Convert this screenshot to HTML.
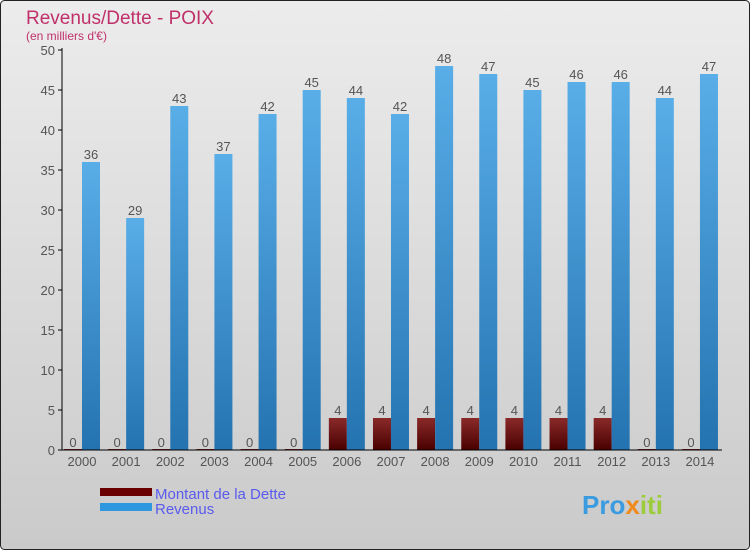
<!DOCTYPE html>
<html><head><meta charset="utf-8"><style>
body{margin:0;width:750px;height:550px;overflow:hidden;font-family:"Liberation Sans",sans-serif}
</style></head><body>
<svg id="c" width="750" height="550" xmlns="http://www.w3.org/2000/svg">
<defs>
<linearGradient id="bg" x1="0" y1="0" x2="0" y2="1"><stop offset="0" stop-color="#ececec"/><stop offset="1" stop-color="#cacaca"/></linearGradient>
<linearGradient id="gr" x1="0" y1="0" x2="0" y2="1"><stop offset="0" stop-color="#59aee8"/><stop offset="1" stop-color="#2473b0"/></linearGradient>
<linearGradient id="gd" x1="0" y1="0" x2="0" y2="1"><stop offset="0" stop-color="#8a2a2a"/><stop offset="1" stop-color="#4a0000"/></linearGradient>
</defs>
<rect x="0.5" y="0.5" width="749" height="549" rx="4" fill="url(#bg)" stroke="#222"/>
<text x="26" y="24" font-size="19" fill="#c0306a">Revenus/Dette - POIX</text>
<text x="26" y="40" font-size="12" fill="#c0306a">(en milliers d'€)</text>
<g id="plot"></g>
<rect x="100" y="488" width="52" height="8" fill="#6a0000"/>
<rect x="100" y="503" width="52" height="8" fill="#2f97e0"/>
<text x="155" y="499" font-size="15" fill="#5a5aee">Montant de la Dette</text>
<text x="155" y="514" font-size="15" fill="#5a5aee">Revenus</text>
<text x="582" y="514" font-size="26" font-weight="bold" fill="#3a9be0">Pro<tspan fill="#f08a1a">x</tspan><tspan fill="#9ccc3a">iti</tspan></text>
</svg>
<script>
const years=["2000","2001","2002","2003","2004","2005","2006","2007","2008","2009","2010","2011","2012","2013","2014"];
const dette=[0,0,0,0,0,0,4,4,4,4,4,4,4,0,0];
const revenus=[36,29,43,37,42,45,44,42,48,47,45,46,46,44,47];
const yTicks=[0,5,10,15,20,25,30,35,40,45,50];
const NS="http://www.w3.org/2000/svg";
const g=document.getElementById('plot');
const y=v=>450-v*8;
const x=i=>82+i*44.14;
function el(t,a,txt){const e=document.createElementNS(NS,t);for(const k in a)e.setAttribute(k,a[k]);if(txt!==undefined)e.textContent=txt;g.appendChild(e);return e;}
yTicks.forEach(t=>{
  const l=el('line',{x1:58,x2:62,y1:y(t),y2:y(t),stroke:'#000'});
  
  
  const tx=el('text',{x:55,y:y(t)+5,'text-anchor':'end','font-size':13,fill:'#555'},t);
  
  
});
years.forEach((yr,i)=>{
  const cx=x(i);
  const dv=dette[i],rv=revenus[i];
  const d=el('rect',{x:cx-18,y:y(dv)-(dv?0:1),width:18,height:dv*8+(dv?0:1),fill:'url(#gd)'});
  
  
  const r=el('rect',{x:cx,y:y(rv),width:18,height:rv*8,fill:'url(#gr)'});
  
  
  const dl=el('text',{x:cx-9,y:y(dv)-3,'text-anchor':'middle','font-size':13,fill:'#555'},dv);
  
  
  const rl=el('text',{x:cx+9,y:y(rv)-3,'text-anchor':'middle','font-size':13,fill:'#555'},rv);
  
  
  const xl=el('text',{x:cx,y:466,'text-anchor':'middle','font-size':13,fill:'#555'},yr);
  
  
});
const ya=el('line',{x1:62,x2:62,y1:48,y2:450,stroke:'#000'});


const xa=el('line',{x1:58,x2:722,y1:450,y2:450,stroke:'#000'});


</script>
</body></html>
